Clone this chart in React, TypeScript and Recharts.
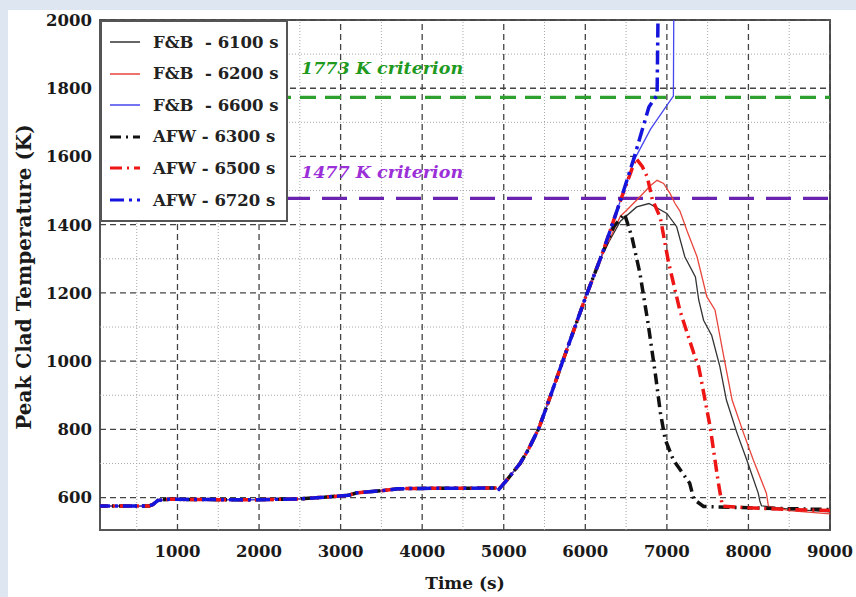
import React from 'react';
import { LineChart, Line, XAxis, YAxis, ReferenceLine, ReferenceArea, Legend } from 'recharts';

// Shared early part of the transient (all six cases coincide)
const baseTime = [0, 650, 700, 760, 900, 1500, 2000, 2500, 2900, 3100, 3200, 3500, 3700, 4000, 4900, 4940, 5050, 5200, 5300, 5430, 5570, 5750, 6000];
const baseTemp = [575, 575, 580, 592, 595, 594, 594, 596, 603, 607, 614, 620, 626, 627, 628, 624, 655, 700, 740, 803, 896, 1018, 1185];

const fb6100Time = [6220, 6430, 6630, 6780, 7000, 7120, 7220, 7350, 7390, 7450, 7550, 7650, 7730, 7860, 7980, 8120, 8140, 8160, 8500, 9000];
const fb6100Temp = [1320, 1410, 1452, 1462, 1433, 1394, 1306, 1247, 1180, 1120, 1075, 984, 886, 789, 710, 613, 590, 576, 566, 558];

const fb6200Time = [6220, 6430, 6510, 6670, 6800, 6880, 6960, 7040, 7100, 7160, 7250, 7370, 7490, 7590, 7700, 7800, 7940, 8060, 8220, 8245, 8500, 9000];
const fb6200Temp = [1318, 1425, 1443, 1482, 1515, 1530, 1521, 1491, 1462, 1440, 1380, 1306, 1189, 1150, 1010, 886, 789, 710, 613, 575, 562, 552];

const fb6600Time = [6200, 6430, 6600, 6800, 7000, 7080, 7086];
const fb6600Temp = [1310, 1470, 1590, 1680, 1750, 1777, 2100];

const afw6300Time = [6200, 6350, 6480, 6570, 6670, 6770, 6860, 6920, 6980, 7080, 7280, 7330, 7450, 8000, 9000];
const afw6300Temp = [1310, 1395, 1432, 1365, 1257, 1110, 960, 850, 770, 710, 642, 595, 574, 570, 565];

const afw6500Time = [6200, 6430, 6620, 6700, 6760, 6820, 6920, 7020, 7160, 7330, 7390, 7530, 7630, 7680, 8000, 8500, 9000];
const afw6500Temp = [1310, 1470, 1595, 1570, 1540, 1475, 1420, 1290, 1148, 1023, 984, 808, 645, 575, 570, 565, 562];

const afw6720Time = [6200, 6430, 6590, 6780, 6880, 6896];
const afw6720Temp = [1310, 1470, 1590, 1745, 1780, 2100];

const seriesNames = ['F&B  - 6100 s', 'F&B  - 6200 s', 'F&B  - 6600 s', 'AFW - 6300 s', 'AFW - 6500 s', 'AFW - 6720 s'];

const xTicks = [1000, 2000, 3000, 4000, 5000, 6000, 7000, 8000, 9000];
const yTicks = [600, 800, 1000, 1200, 1400, 1600, 1800, 2000];
const xMinor = [500, 1500, 2500, 3500, 4500, 5500, 6500, 7500, 8500];
const yMinor = [700, 900, 1100, 1300, 1500, 1700, 1900];
const criteria = [1773, 1477];
const criterionLabels = ['1773 K criterion', '1477 K criterion'];

const X_MIN = 50;
const X_MAX = 9000;
const Y_MIN = 505;
const Y_MAX = 2000;

const zip = (times: number[], temps: number[]) => times.map((t, i) => ({ t, T: temps[i] }));

const series = [
  { name: seriesNames[0], data: zip([...baseTime, ...fb6100Time], [...baseTemp, ...fb6100Temp]), stroke: '#333333', width: 1.3, dash: undefined as string | undefined },
  { name: seriesNames[1], data: zip([...baseTime, ...fb6200Time], [...baseTemp, ...fb6200Temp]), stroke: '#e8453c', width: 1.3, dash: undefined },
  { name: seriesNames[2], data: zip([...baseTime, ...fb6600Time], [...baseTemp, ...fb6600Temp]), stroke: '#4646ee', width: 1.3, dash: undefined },
  { name: seriesNames[3], data: zip([...baseTime, ...afw6300Time], [...baseTemp, ...afw6300Temp]), stroke: '#111111', width: 3.5, dash: '11 5 2 5' },
  { name: seriesNames[4], data: zip([...baseTime, ...afw6500Time], [...baseTemp, ...afw6500Temp]), stroke: '#ee1515', width: 3.5, dash: '12 5 2 5' },
  { name: seriesNames[5], data: zip([...baseTime, ...afw6720Time], [...baseTemp, ...afw6720Temp]), stroke: '#1414dd', width: 3.5, dash: '14 5 3 5' },
];

const font = 'DejaVu Serif';
const criterionColors = ['#1f9a1f', '#9b30d9'];
const criterionLineColors = ['#2ea02e', '#6a22b0'];
const criterionDash = ['16 9', '25 12'];
const criterionLift = [23, 20];

const renderLegend = () => (
  <div
    style={{
      boxSizing: 'border-box',
      width: 188,
      height: 202,
      border: '2px solid #555',
      background: '#fff',
      position: 'relative',
      fontFamily: font,
      fontWeight: 'bold',
      fontSize: 16.5,
      color: '#222',
    }}
  >
    {series.map((s, i) => (
      <div
        key={i}
        style={{ position: 'absolute', left: 0, top: 20 + i * 31.6 - 10, height: 20, display: 'flex', alignItems: 'center' }}
      >
        <svg width={40} height={20} style={{ marginLeft: 8 }}>
          <line x1={0} y1={10} x2={30} y2={10} stroke={s.stroke} strokeWidth={s.width === 3.5 ? 3 : 1.5} strokeDasharray={s.dash} />
        </svg>
        <span style={{ whiteSpace: 'pre', marginLeft: 3 }}>{s.name}</span>
      </div>
    ))}
  </div>
);

export default function App() {
  return (
    <div style={{ position: 'fixed', left: 0, top: 0, width: 856, height: 597, background: '#dde6f1' }}>
      <div style={{ position: 'absolute', left: 8, top: 10, width: 848, height: 587, background: '#ffffff' }}>
        <LineChart width={848} height={587} margin={{ top: 10, right: 26, bottom: 0, left: 0 }}>
          <XAxis
            type="number"
            dataKey="t"
            domain={[X_MIN, X_MAX]}
            ticks={xTicks}
            allowDataOverflow
            height={67}
            tickLine={false}
            axisLine={false}
            tickMargin={9}
            tick={{ fontFamily: font, fontWeight: 'bold', fontSize: 16.5, fill: '#1a1a1a' }}
            label={{ value: 'Time (s)', position: 'insideBottom', offset: 8, fontFamily: font, fontWeight: 'bold', fontSize: 17, fill: '#1a1a1a' }}
          />
          <YAxis
            type="number"
            dataKey="T"
            domain={[Y_MIN, Y_MAX]}
            ticks={yTicks}
            allowDataOverflow
            width={92}
            tickLine={false}
            axisLine={false}
            tick={{ fontFamily: font, fontWeight: 'bold', fontSize: 16.5, fill: '#1a1a1a' }}
            label={{
              content: (props: any) => {
                const vb = props.viewBox || { x: 0, y: 10, width: 92, height: 510 };
                const cx = vb.x + 16;
                const cy = vb.y + vb.height / 2 + 2;
                return (
                  <text
                    x={cx}
                    y={cy}
                    transform={`rotate(-90, ${cx}, ${cy})`}
                    textAnchor="middle"
                    dominantBaseline="central"
                    fontFamily={font}
                    fontWeight="bold"
                    fontSize={20}
                    fill="#1a1a1a"
                  >
                    Peak Clad Temperature (K)
                  </text>
                );
              },
            }}
          />
          {xMinor.map((v) => (
            <ReferenceLine key={`xm${v}`} x={v} stroke="#a8a8a8" strokeWidth={1} strokeDasharray="1 2" />
          ))}
          {yMinor.map((v) => (
            <ReferenceLine key={`ym${v}`} y={v} stroke="#a8a8a8" strokeWidth={1} strokeDasharray="1 2" />
          ))}
          {xTicks.map((v) => (
            <ReferenceLine key={`xM${v}`} x={v} stroke="#444" strokeWidth={1.3} strokeDasharray="6 4" />
          ))}
          {yTicks.map((v) => (
            <ReferenceLine key={`yM${v}`} y={v} stroke="#444" strokeWidth={1.3} strokeDasharray="6 4" />
          ))}
          {criteria.map((v, i) => (
            <ReferenceLine
              key={`c${v}`}
              y={v}
              stroke={criterionLineColors[i]}
              strokeWidth={3.2}
              strokeDasharray={criterionDash[i]}
              label={{
                content: (props: any) => {
                  const vb = props.viewBox;
                  return (
                    <text
                      x={vb.x + 201}
                      y={vb.y - criterionLift[i]}
                      fontFamily={font}
                      fontWeight="bold"
                      fontStyle="italic"
                      fontSize={17.5}
                      fill={criterionColors[i]}
                    >
                      {criterionLabels[i]}
                    </text>
                  );
                },
              }}
            />
          ))}
          <ReferenceArea x1={X_MIN} x2={X_MAX} y1={Y_MIN} y2={Y_MAX} fill="none" stroke="#555" strokeWidth={2} />
          {series.map((s) => (
            <Line
              key={s.name}
              data={s.data}
              dataKey="T"
              name={s.name}
              type="linear"
              stroke={s.stroke}
              strokeWidth={s.width}
              strokeDasharray={s.dash}
              dot={false}
              activeDot={false}
              isAnimationActive={false}
            />
          ))}
          <Legend
            layout="vertical"
            align="center"
            verticalAlign="middle"
            content={renderLegend}
            wrapperStyle={{ top: 10, left: 92, width: 188, height: 202 }}
          />
        </LineChart>
      </div>
    </div>
  );
}
